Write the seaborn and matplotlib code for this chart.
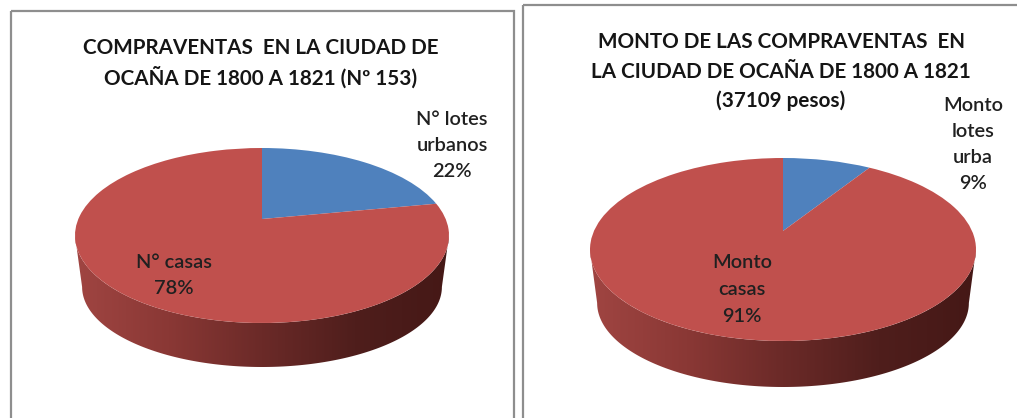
import numpy as np
import matplotlib
matplotlib.use("Agg")
import matplotlib.pyplot as plt
import seaborn as sns
from matplotlib.patches import Polygon, Rectangle
from matplotlib.transforms import Transform

# values
left_labels = ["N° lotes", "urbanos"]
left_other = ["N° casas"]
left_values = [22, 78]
left_title = ["COMPRAVENTAS  EN LA CIUDAD DE", "OCAÑA DE 1800 A 1821 (Nº 153)"]

right_labels = ["Monto", "lotes", "urba"]
right_other = ["Monto", "casas"]
right_values = [9, 91]
right_title = ["MONTO DE LAS COMPRAVENTAS  EN", "LA CIUDAD DE OCAÑA DE 1800 A 1821", "(37109 pesos)"]

colors = sns.color_palette(["#4F81BD", "#C0504D"])
side_colors = ["#a04542", "#8a3835", "#6b2a28", "#4f1e1c", "#451816"]
FRAME = "#8e8e8e"


class TiltedDisc(Transform):
    """Projects the unit circle onto the tilted top of the pie, in pixels."""
    input_dims = 2
    output_dims = 2
    has_inverse = False

    def __init__(self, vx, vy, top, bottom, half_w):
        super().__init__()
        self.vx, self.vy = vx, vy
        up, down = vy - top, bottom - vy
        self.k = (down - up) / (down + up)
        self.c = up * (1 + self.k)
        self.a = half_w * np.sqrt(1 - self.k ** 2)

    def transform_non_affine(self, values):
        u, v = values[:, 0], values[:, 1]
        d = 1 + self.k * v
        return np.column_stack([self.vx + self.a * u / d, self.vy - self.c * v / d])


def draw_side(ax, cx, top, bottom, half_w, side_bottom, shrink_w, shrink_h):
    # wall of the pie: lower half of the top ellipse swept down to a smaller one
    cy = (top + bottom) / 2
    half_h = (bottom - top) / 2
    h2 = half_h * shrink_h
    w2 = half_w * shrink_w
    cy2 = side_bottom - h2
    t = np.linspace(np.pi, 0, 200)
    upper = np.column_stack([cx + half_w * np.cos(t), cy + half_h * np.sin(t)])
    lower = np.column_stack([cx + w2 * np.cos(t[::-1]), cy2 + h2 * np.sin(t[::-1])])
    clip = Polygon(np.vstack([upper, lower]), closed=True, transform=ax.transData,
                   facecolor="none", edgecolor="none")
    ax.add_patch(clip)
    cmap = sns.blend_palette(side_colors, as_cmap=True)
    img = ax.imshow(np.linspace(0, 1, 256)[None, :], cmap=cmap, aspect="auto",
                    extent=(cx - half_w, cx + half_w, side_bottom, top), zorder=1)
    img.set_clip_path(clip)


def draw_pie(ax, values, vx, vy, top, bottom, half_w):
    disc = TiltedDisc(vx, vy, top, bottom, half_w)
    wedges, _ = ax.pie(values, colors=colors, startangle=90, counterclock=False)
    for w in wedges:
        w.set_transform(disc + ax.transData)
        w.set_zorder(2)
        w.set_linewidth(0)


def stacked_text(ax, x, baseline, step, lines, **kw):
    # one text per line, matplotlib's linespacing drifts with the glyphs used
    for i, line in enumerate(lines):
        ax.text(x, baseline + i * step, line, ha="center", va="baseline", zorder=4, **kw)


sns.set_theme(style="white")
plt.rcParams["font.family"] = ["Lato", "DejaVu Sans"]

fig = plt.figure(figsize=(10.17, 4.18), dpi=100)
ax = fig.add_axes([0, 0, 1, 1])

draw_side(ax, 262, 148, 323, 187, 367, 0.962, 0.915)
draw_side(ax, 783, 158, 341, 193, 387, 0.963, 0.918)
draw_pie(ax, left_values, 262, 219, 148, 323, 187)
draw_pie(ax, right_values, 783, 231, 158, 341, 193)

ax.set_aspect("auto")
ax.set_xlim(0, 1017)
ax.set_ylim(418, 0)
ax.axis("off")

# chart frames, both run off the cropped picture
ax.add_patch(Rectangle((10.5, 11), 503, 420, fill=False, edgecolor=FRAME, linewidth=1.6, zorder=3))
ax.add_patch(Rectangle((522.5, 4.5), 520, 430, fill=False, edgecolor=FRAME, linewidth=1.6, zorder=3))

title_kw = dict(fontsize=14.85, fontweight="bold", color="#151515")
stacked_text(ax, 261, 53.5, 31.5, left_title, **title_kw)
stacked_text(ax, 781, 48, 29.5, right_title, **title_kw)

label_kw = dict(fontsize=14.4, fontweight="semibold", color="#202020")
stacked_text(ax, 452, 125, 25.8, left_labels + [f"{left_values[0]}%"], **label_kw)
stacked_text(ax, 174, 268, 25.5, left_other + [f"{left_values[1]}%"], **label_kw)
stacked_text(ax, 973, 110.7, 26, right_labels + [f"{right_values[0]}%"], **label_kw)
stacked_text(ax, 742, 268, 26.8, right_other + [f"{right_values[1]}%"], **label_kw)

fig.savefig("out.png", dpi=100, facecolor="white")
